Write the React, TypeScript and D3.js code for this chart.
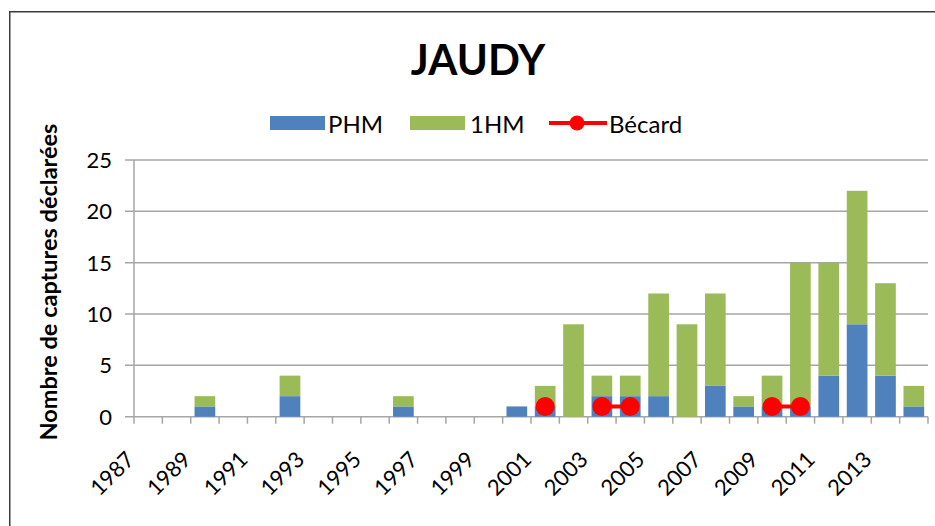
import React from 'react';
import * as d3 from 'd3';

// categories and series
const years = [
  '1987', '1988', '1989', '1990', '1991', '1992', '1993', '1994', '1995', '1996',
  '1997', '1998', '1999', '2000', '2001', '2002', '2003', '2004', '2005', '2006',
  '2007', '2008', '2009', '2010', '2011', '2012', '2013', '2014',
];
const phm = [0, 0, 1, 0, 0, 2, 0, 0, 0, 1, 0, 0, 0, 1, 1, 0, 2, 2, 2, 0, 3, 1, 1, 1, 4, 9, 4, 1];
const hm1 = [0, 0, 1, 0, 0, 2, 0, 0, 0, 1, 0, 0, 0, 0, 2, 9, 2, 2, 10, 9, 9, 1, 3, 14, 11, 13, 9, 2];
const becard: (number | null)[] = [
  null, null, null, null, null, null, null, null, null, null,
  null, null, null, null, 1, null, 1, 1, null, null,
  null, null, 1, 1, null, null, null, null,
];
const yTicks = [0, 5, 10, 15, 20, 25];
const xLabels = ['1987', '1989', '1991', '1993', '1995', '1997', '1999', '2001', '2003', '2005', '2007', '2009', '2011', '2013'];

const W = 935;
const H = 526;
const FONT = 'Lato, "Open Sans", sans-serif';
const BLUE = '#4F81BD';
const GREEN = '#9BBB59';
const RED = '#FF0000';
const GRID = '#A6A6A6';

export default function App() {
  const left = 134;
  const right = 928;
  const top = 160;
  const bottom = 416.7;

  const x = d3.scaleBand<string>()
    .domain(years)
    .range([left, right])
    .paddingInner(0.27)
    .paddingOuter(0.135);
  const step = x.step();
  const cx = (yr: string) => (x(yr) as number) + x.bandwidth() / 2;

  const y = d3.scaleLinear().domain([0, 25]).range([bottom, top]);

  const stacked = years.map((yr, i) => ({ yr, p: phm[i], h: hm1[i] }));

  const line = d3.line<number | null>()
    .defined(d => d != null)
    .x((d, i) => cx(years[i]))
    .y(d => y(d as number));

  const boundaries = d3.range(years.length + 1).map(i => left + i * step);

  return (
    <svg width={W} height={H} style={{ position: 'absolute', left: 0, top: 0, background: '#fff' }}
      fontFamily={FONT}>
      <rect x={0} y={0} width={W} height={H} fill="#fff" />
      {/* chart border */}
      <rect x={9.75} y={11.75} width={W + 20} height={H + 20} fill="none" stroke="#3c3c3c" strokeWidth={1.5} />

      {/* title */}
      <text x={478} y={75} textAnchor="middle" fontSize={42} fontWeight="bold" fill="#000">JAUDY</text>

      {/* legend */}
      <g fontSize={24} fill="#000">
        <rect x={270} y={116} width={55} height={14} fill={BLUE} />
        <text x={328} y={133}>PHM</text>
        <rect x={410} y={116} width={55} height={14} fill={GREEN} />
        <text x={470} y={133}>1HM</text>
        <line x1={549} x2={607} y1={123} y2={123} stroke={RED} strokeWidth={4} />
        <circle cx={577} cy={123} r={7.5} fill={RED} />
        <text x={609} y={133}>Bécard</text>
      </g>

      {/* y-axis title */}
      <text transform={`translate(57,282) rotate(-90)`} textAnchor="middle" fontSize={23.5} fontWeight="bold" fill="#000">
        Nombre de captures déclarées
      </text>

      {/* gridlines and y ticks */}
      {yTicks.map(t => (
        <g key={t}>
          <line x1={left - 9} x2={right} y1={y(t)} y2={y(t)} stroke={GRID} strokeWidth={1.5} />
          <text x={112} y={y(t)} dy="0.36em" textAnchor="end" fontSize={22} fill="#000">{t}</text>
        </g>
      ))}
      <line x1={left} x2={left} y1={top} y2={bottom} stroke={GRID} strokeWidth={1.5} />

      {/* x tick marks */}
      {boundaries.map((bx, i) => (
        <line key={i} x1={bx} x2={bx} y1={bottom} y2={bottom + 7} stroke={GRID} strokeWidth={1.5} />
      ))}

      {/* stacked bars */}
      {stacked.map(d => (
        <g key={d.yr}>
          {d.p > 0 && (
            <rect x={x(d.yr)} width={x.bandwidth()} y={y(d.p)} height={y(0) - y(d.p)} fill={BLUE} />
          )}
          {d.h > 0 && (
            <rect x={x(d.yr)} width={x.bandwidth()} y={y(d.p + d.h)} height={y(d.p) - y(d.p + d.h)} fill={GREEN} />
          )}
        </g>
      ))}

      {/* Bécard line */}
      <path d={line(becard) || ''} fill="none" stroke={RED} strokeWidth={4} />
      {becard.map((v, i) => v != null && (
        <circle key={i} cx={cx(years[i])} cy={y(v)} r={9.5} fill={RED} />
      ))}

      {/* x labels */}
      {xLabels.map(lbl => (
        <text key={lbl} transform={`translate(${cx(lbl) - 12.5},461) rotate(-45)`} textAnchor="end"
          fontSize={22} fill="#000">{lbl}</text>
      ))}
    </svg>
  );
}
